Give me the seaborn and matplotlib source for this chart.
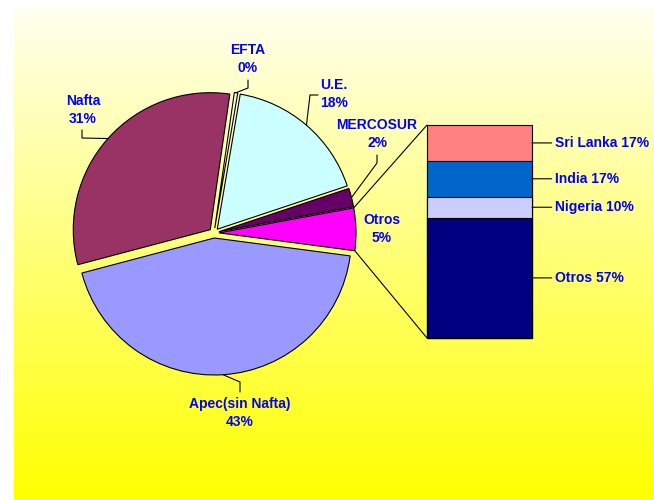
import numpy as np
import matplotlib
matplotlib.use("Agg")
import matplotlib.pyplot as plt
import seaborn as sns

# --- Data ---
pie_labels = ["Otros", "MERCOSUR", "U.E.", "EFTA", "Nafta", "Apec(sin Nafta)"]
pie_shares = [5.0, 2.2, 17.2, 0.4, 31.4, 43.8]      # slice sizes
pie_pct = [5, 2, 18, 0, 31, 43]                       # percentages as printed
pie_colors = ["#FF00FF", "#660066", "#CCFFFF", "#FFFFCC", "#993366", "#9999FF"]

# breakdown of "Otros", bottom to top
otros_labels = ["Otros", "Nigeria", "India", "Sri Lanka"]
otros_pct = [57, 10, 17, 17]
otros_colors = ["#000080", "#CCCCFF", "#0066CC", "#FF8080"]

# --- Layout (pixels, image coords) ---
W, H = 654, 500
TXT = "#0000FF"
PIE_CENTER = (214, 233)
PIE_R = 137

# label position (x, y, ha) and leader bend points, one per pie slice
label_pos = [(382, 229, "center"), (377, 134, "center"), (320, 94, "left"),
             (248, 59, "center"), (83, 110, "center"), (240, 413, "center")]
leader_bends = [None, [(377, 155), (377, 163)], [(318, 95), (310, 95)],
                [(248, 80), (248, 88)], [(82, 130), (82, 138)], [(240, 392), (240, 382)]]


def px(x, y):
    return (x, H - y)


sns.set_style("white")
plt.rcParams["font.family"] = ["Liberation Sans", "DejaVu Sans"]

fig = plt.figure(figsize=(W / 100, H / 100), dpi=100)
ax = fig.add_axes([0, 0, 1, 1])

# white -> yellow gradient panel
ramp = np.linspace(240, 0, 256) / 255
grad = np.ones((256, 1, 3))
grad[:, 0, 2] = ramp
ax.imshow(grad, extent=(14, W, 0, H - 8), aspect="auto", zorder=0,
          interpolation="bilinear")

wedges, _ = ax.pie(pie_shares, colors=pie_colors, startangle=-7.5,
                   counterclock=True, explode=[5] * len(pie_shares),
                   radius=PIE_R, center=px(*PIE_CENTER), frame=True,
                   wedgeprops=dict(edgecolor="black", linewidth=0.8))

for w, name, pct, (lx, ly, ha), bends in zip(wedges, pie_labels, pie_pct,
                                              label_pos, leader_bends):
    ax.text(*px(lx, ly), f"{name}\n{pct}%", ha=ha, va="center", color=TXT,
            fontsize=10, fontweight="bold", linespacing=1.3)
    if bends:
        mid = np.deg2rad((w.theta1 + w.theta2) / 2)
        ex = w.center[0] + w.r * np.cos(mid)
        ey = w.center[1] + w.r * np.sin(mid)
        pts = [px(*b) for b in bends] + [(ex, ey)]
        ax.plot([p[0] for p in pts], [p[1] for p in pts], color="black", lw=0.8)

# connectors from the "Otros" slice to the bar
ow = wedges[0]
bar_left, bar_top, bar_right, bar_bot = 427, 125, 532, 338
for ang, corner in [(ow.theta2, px(bar_left, bar_top)), (ow.theta1, px(bar_left, bar_bot))]:
    a = np.deg2rad(ang)
    sx = ow.center[0] + ow.r * np.cos(a)
    sy = ow.center[1] + ow.r * np.sin(a)
    ax.plot([sx, corner[0]], [sy, corner[1]], color="black", lw=0.8)

ax.set_xlim(0, W)
ax.set_ylim(0, H)
ax.set_aspect("equal")
ax.axis("off")

# --- stacked bar of the "Otros" breakdown ---
ax2 = fig.add_axes([bar_left / W, (H - bar_bot) / H,
                    (bar_right - bar_left) / W, (bar_bot - bar_top) / H])
cum = np.cumsum(otros_pct)
for i in reversed(range(len(otros_pct))):
    sns.barplot(x=[0], y=[cum[i]], color=otros_colors[i], width=1, saturation=1,
                edgecolor="black", linewidth=0.8, ax=ax2)
for p in ax2.patches:
    p.set_clip_on(False)
ax2.set_xlim(-0.5, 0.5)
ax2.set_ylim(0, cum[-1])
ax2.axis("off")

for name, v, top in zip(otros_labels, otros_pct, cum):
    ax2.annotate(f"{name} {v}%", xy=(0.5, top - v / 2), xytext=(23, 0),
                 textcoords="offset pixels", ha="left", va="center", color=TXT,
                 fontsize=10, fontweight="bold", annotation_clip=False,
                 arrowprops=dict(arrowstyle="-", color="black", lw=0.8,
                                 shrinkA=0, shrinkB=0, relpos=(0, 0.5)))

fig.savefig("out.png", dpi=100, facecolor="white")
